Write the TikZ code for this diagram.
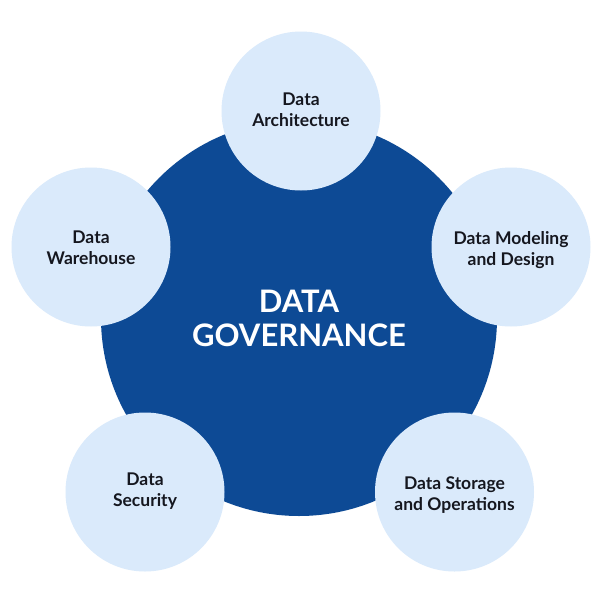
\documentclass[tikz,border=0pt]{standalone}
\usepackage{fontspec}
\setmainfont{Lato}
\definecolor{govblue}{HTML}{0D4A95}
\definecolor{petal}{HTML}{DAEAFB}
\definecolor{ink}{HTML}{15171F}
\begin{document}
\begin{tikzpicture}[x=1pt,y=-1pt,
  hub/.style={circle,fill=govblue,minimum size=396pt,inner sep=0pt,
    text=white,align=center,font=\fontsize{31}{34}\selectfont\bfseries},
  petalnode/.style={circle,fill=petal,minimum size=159pt,inner sep=0pt},
  petaltext/.style={inner sep=0pt,text=ink,align=center,
    font=\fontsize{17.5}{21}\selectfont\bfseries}]
\useasboundingbox (0,0) rectangle (600,600);
\fill[white] (0,0) rectangle (600,600);
\node[hub] (gov) at (299,318) {DATA\\GOVERNANCE};
\node[petalnode] (arch) at (301,111) {};
\node[petalnode] (model) at (511,247) {};
\node[petalnode] (store) at (454.5,492) {};
\node[petalnode] (sec) at (145,492) {};
\node[petalnode] (ware) at (91,247) {};
\node[petaltext] (archtxt) at (301,110) {Data\\Architecture};
\node[petaltext] (modeltxt) at (511,250) {Data Modeling\\and Design};
\node[petaltext] (storetxt) at (454.5,495) {Data Storage\\and Operations};
\node[petaltext] (sectxt) at (145,491) {Data\\Security};
\node[petaltext] (waretxt) at (91,248) {Data\\Warehouse};
\end{tikzpicture}
\end{document}
